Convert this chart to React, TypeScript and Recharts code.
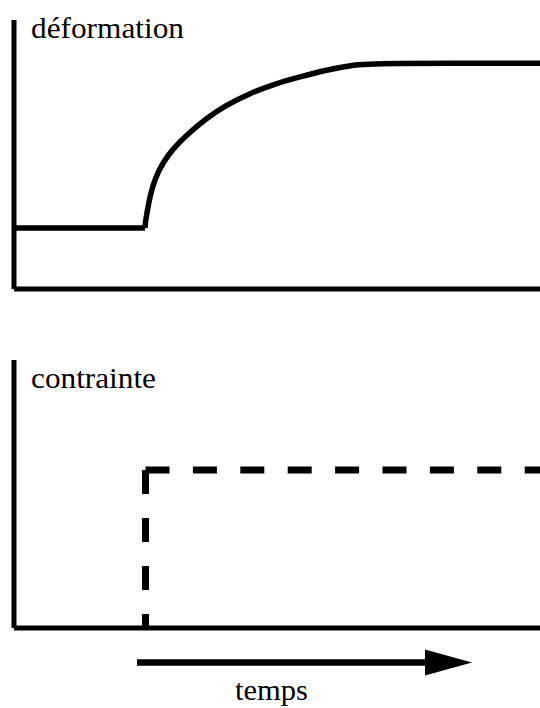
import { LineChart, Line, XAxis, YAxis, Label } from "recharts";

// time axis (arbitrary units 0..10)
const loadTime = 2.49;
const restStrain = 2.27;
const creepTime = [2.49, 2.5, 2.53, 2.59, 2.68, 2.84, 3.03, 3.28, 3.66, 4.04, 4.49, 4.93, 5.44, 5.94, 6.45, 6.83, 10];
const creepStrain = [2.27, 2.5, 2.87, 3.49, 4.11, 4.73, 5.23, 5.72, 6.35, 6.84, 7.28, 7.61, 7.89, 8.14, 8.33, 8.39, 8.39];

const stressStepTime = 2.5;
const stressEndTime = 10;
const stressLevel = 5.9;

const labels = { strain: "déformation", stress: "contrainte", time: "temps" };

const restData = [
  { t: 0, v: restStrain },
  { t: loadTime, v: restStrain },
];
const creepData = creepTime.map((t, i) => ({ t, v: creepStrain[i] }));
const stressRise = [
  { t: stressStepTime, v: stressLevel },
  { t: stressStepTime, v: 0 },
];
const stressHold = [
  { t: stressStepTime, v: stressLevel },
  { t: stressEndTime, v: stressLevel },
];

const FONT = '"Liberation Serif", "Times New Roman", Times, serif';
const INK = "#000";

const axisTitle = (value: string, dy: number, len: number) => (props: any) => {
  const vb = props.viewBox;
  return (
    <text
      x={vb.x + vb.width + 17}
      y={vb.y + dy}
      style={{ fontFamily: FONT }}
      fontSize={29}
      fill={INK}
      textLength={len}
      lengthAdjust="spacingAndGlyphs"
    >
      {value}
    </text>
  );
};

const timeArrow = (props: any) => {
  const vb = props.viewBox;
  const y = vb.y + 34.5;
  const x0 = vb.x + 123;
  const head = vb.x + 411;
  const tip = vb.x + 458;
  return (
    <g>
      <line x1={x0} y1={y} x2={head + 2} y2={y} stroke={INK} strokeWidth={6.5} />
      <polygon points={`${head},${y - 13} ${tip},${y} ${head},${y + 13}`} fill={INK} />
      <text
        x={vb.x + 257.5}
        y={vb.y + 72}
        textAnchor="middle"
        style={{ fontFamily: FONT }}
        fontSize={29}
        fill={INK}
        textLength={73}
        lengthAdjust="spacingAndGlyphs"
      >
        {labels.time}
      </text>
    </g>
  );
};

const axisStyle = { stroke: INK, strokeWidth: 5 };

export default function App() {
  return (
    <div style={{ position: "absolute", left: 0, top: 0, width: 540, height: 708, background: "#fff" }}>
      <LineChart width={540} height={340} margin={{ top: 20, right: 0, bottom: 50, left: 13 }}>
        <XAxis type="number" dataKey="t" domain={[0, 10]} height={1} tick={false} tickLine={false} axisLine={axisStyle} />
        <YAxis type="number" dataKey="v" domain={[0, 10]} width={1} tick={false} tickLine={false} axisLine={axisStyle}>
          <Label content={axisTitle(labels.strain, 18, 153)} />
        </YAxis>
        <Line
          data={restData}
          dataKey="v"
          type="linear"
          stroke={INK}
          strokeWidth={5.5}
          dot={false}
          isAnimationActive={false}
        />
        <Line
          data={creepData}
          dataKey="v"
          type="basis"
          stroke={INK}
          strokeWidth={5.5}
          dot={false}
          isAnimationActive={false}
        />
      </LineChart>
      <LineChart width={540} height={368} margin={{ top: 20, right: 0, bottom: 79, left: 13 }}>
        <XAxis type="number" dataKey="t" domain={[0, 10]} height={1} tick={false} tickLine={false} axisLine={axisStyle}>
          <Label content={timeArrow} />
        </XAxis>
        <YAxis type="number" dataKey="v" domain={[0, 10]} width={1} tick={false} tickLine={false} axisLine={axisStyle}>
          <Label content={axisTitle(labels.stress, 28, 125)} />
        </YAxis>
        <Line
          data={stressRise}
          dataKey="v"
          type="linear"
          stroke={INK}
          strokeWidth={7}
          strokeDasharray="24 24"
          dot={false}
          isAnimationActive={false}
        />
        <Line
          data={stressHold}
          dataKey="v"
          type="linear"
          stroke={INK}
          strokeWidth={7}
          strokeDasharray="24 23.4"
          dot={false}
          isAnimationActive={false}
        />
      </LineChart>
    </div>
  );
}
